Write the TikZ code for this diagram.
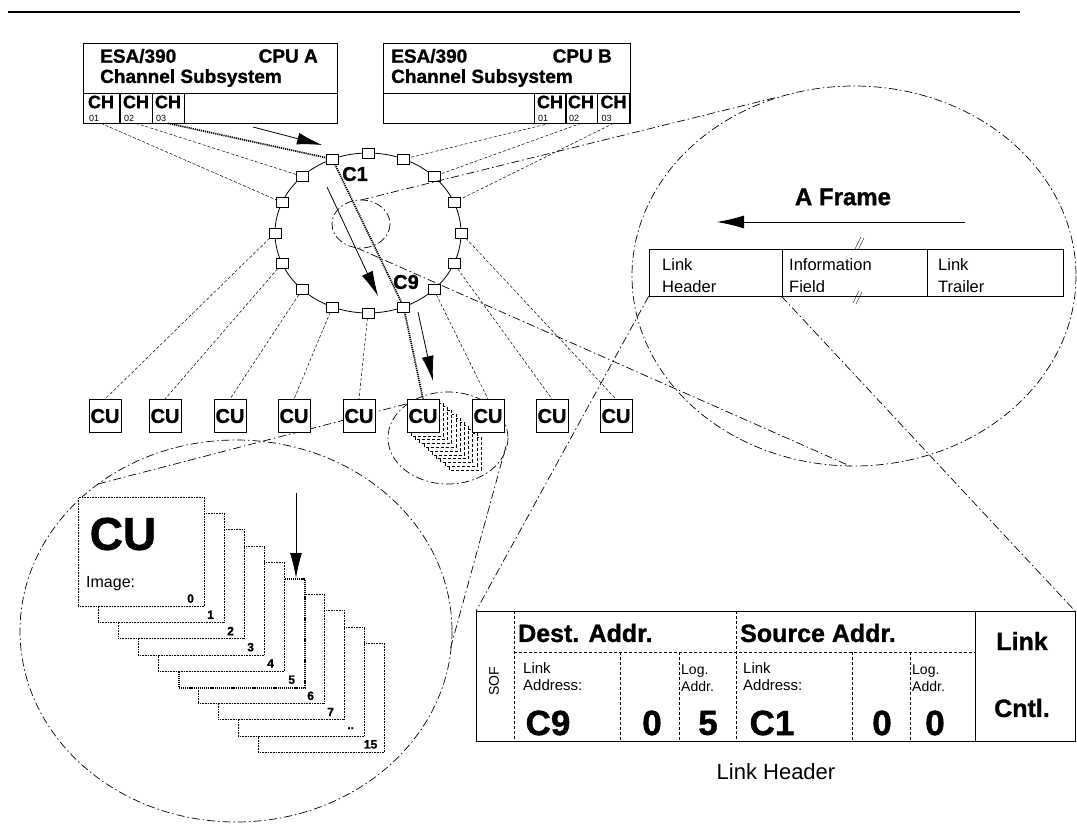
\documentclass[tikz,border=0pt]{standalone}
\usepackage{fontspec}
\setmainfont{Liberation Sans}[BoldFeatures={FakeBold=1.2}]
\usetikzlibrary{arrows.meta,positioning,calc}
\newcommand{\fsz}[1]{\fontsize{#1}{#1}\selectfont}

\begin{document}
\begin{tikzpicture}[x=1pt,y=-1pt,>=Latex,
  cpubox/.style={draw,line width=0.8pt,minimum width=254,minimum height=80,inner sep=0},
  chcell/.style={draw,line width=0.6pt,minimum width=32,minimum height=30,inner sep=0},
  port/.style={draw,fill=white,minimum width=12,minimum height=10,inner sep=0,line width=0.5pt},
  cubox/.style={draw,fill=white,line width=0.9pt,minimum width=32,minimum height=33,inner sep=0,font=\bfseries\fsz{20}},
  imgbox/.style={draw,densely dotted,fill=white,line width=0.6pt,minimum width=126,minimum height=109,inner sep=0,anchor=north west},
  link/.style={densely dashed,line width=0.5pt},
  hilite/.style={line width=1.7pt,dash pattern=on 1.2pt off 0.9pt},
  magline/.style={line width=0.7pt,dash pattern=on 8pt off 3pt on 1.5pt off 3pt},
  bigarrow/.style={line width=0.8pt,-{Latex[length=25pt,width=12pt]}},
  txt/.style={inner sep=0,anchor=west},
  bold/.style={font=\bfseries\fsz{#1}},
  plain/.style={font=\fsz{#1}}]

\useasboundingbox (0,0) rectangle (1077,824);
\draw[line width=2.2pt] (8,12) -- (1020,12);

% channel subsystems
\node[cpubox] (cpuA) at (210,83) {};
\draw[line width=0.6pt] (cpuA.west |- 0,93) -- (cpuA.east |- 0,93);
\node[txt,bold=19] at (100,56) {ESA/390};
\node[txt,anchor=east,bold=19] at (318,56) {CPU A};
\node[txt,bold=19] at (100,78) {Channel Subsystem};
\node[cpubox,minimum width=247] (cpuB) at (506.5,83) {};
\draw[line width=0.6pt] (cpuB.west |- 0,93) -- (cpuB.east |- 0,93);
\node[txt,bold=19] at (391,56) {ESA/390};
\node[txt,anchor=east,bold=19] at (612,56) {CPU B};
\node[txt,bold=19] at (391,78) {Channel Subsystem};
\foreach \n/\x/\w in {1/101/36,2/136/32,3/168/32} {
  \node[chcell,minimum width=\w] (chA\n) at (\x,108) {};
  \node[bold=18,inner sep=0] at (\x,102) {CH};
  \node[plain=9,inner sep=0,anchor=west] at ([xshift=-12pt]\x,118) {0\n};
}
\foreach \n/\x in {1/550,2/581,3/613.5} {
  \node[chcell] (chB\n) at (\x,108) {};
  \node[bold=18,inner sep=0] at (\x,102) {CH};
  \node[plain=9,inner sep=0,anchor=west] at ([xshift=-12pt]\x,118) {0\n};
}

% switch
\draw[line width=0.8pt] (368,233) ellipse [x radius=93,y radius=80];
\foreach \i in {0,...,15}
  \node[port] (p\i) at ({368+93*cos(\i*22.5)},{233-80*sin(\i*22.5)}) {};
\node[bold=20,inner sep=0] (c1) at (355,174) {C1};
\node[bold=20,inner sep=0] (c9) at (406,282) {C9};
\draw[magline] (361,224) ellipse [x radius=29,y radius=24];

% magnifier cones
\coordinate (swtop) at (361,200);
\coordinate (swbot) at (357,248);
\coordinate (rctop) at (778,97);
\coordinate (rcbot) at (850,466);
\draw[magline] (swtop) -- (rctop);
\draw[magline] (swbot) -- (rcbot);
\draw[magline] (854,276) ellipse [x radius=222,y radius=190];
\coordinate (stkA) at (406,404);
\coordinate (stkB) at (506,446);
\coordinate (llA) at (98,484);
\coordinate (llB) at (450,650);
\draw[magline] (stkA) -- (llA);
\draw[magline] (stkB) -- (llB);
\draw[magline] (448,438) ellipse [x radius=60,y radius=46];
\draw[magline] (236,631) ellipse [x radius=216,y radius=191];

% CU row
\foreach \k in {10,...,1}
  \draw[densely dashed,fill=white,line width=0.5pt] (407+4.2*\k,399+3.8*\k) rectangle ++(32,33);
\foreach \n/\x in {1/105,2/165,3/230,4/294,5/359,6/423,7/488,8/552,9/616}
  \node[cubox] (cu\n) at (\x,416) {CU};

% links
\draw[link] (chA1.south) -- (p7);
\draw[link] (chA2.south) -- (p6);
\draw[link] (chB1.south) -- (p3);
\draw[link] (chB2.south) -- (p2);
\draw[link] (chB3.south) -- (p1);
\foreach \a/\b in {8/1,9/2,10/3,11/4,12/5,14/7,15/8,0/9}
  \draw[link] (p\a) -- (cu\b.north);
\draw[hilite] (chA3.south) -- (p5);
\draw[hilite] (p5) -- (p13);
\draw[hilite] (p13) -- (cu6.north);
\draw[bigarrow] (253,127) -- (322,145);
\draw[bigarrow] (327,187) -- (378,296);
\draw[bigarrow] (418,312) -- (433,381);

% a frame
\node[bold=24,inner sep=0] (aframe) at (843,197) {A Frame};
\draw[bigarrow,-{Latex[length=27pt,width=13pt]}] (965,222) -- (717,222);
\node[draw,line width=0.8pt,minimum width=133,minimum height=47,inner sep=0] (hdr) at (715.5,272.5) {};
\node[draw,line width=0.8pt,minimum width=145,minimum height=47,inner sep=0] (info) at (854.5,272.5) {};
\node[draw,line width=0.8pt,minimum width=136,minimum height=47,inner sep=0] (trl) at (995,272.5) {};
\node[txt,align=left,font=\fontsize{16.5}{22}\selectfont] at (662,276) {Link\\Header};
\node[txt,align=left,font=\fontsize{16.5}{22}\selectfont] at (789,276) {Information\\Field};
\node[txt,align=left,font=\fontsize{16.5}{22}\selectfont] at (938,276) {Link\\Trailer};
\draw[line width=0.4pt] (855,249) -- (861,237) (858,250) -- (864,238);
\draw[line width=0.4pt] (853,303) -- (859,291) (856,304) -- (862,292);
\draw[magline] (hdr.south west) -- (476,611);
\draw[magline] (info.south west) -- (1075,611);

% link header
\node[draw,line width=0.8pt,minimum width=599,minimum height=130,inner sep=0] (lhtab) at (775.5,676) {};
\draw[densely dashed,line width=0.5pt] (514,611) -- (514,741) (736,611) -- (736,741)
  (514,652) -- (975,652) (620,652) -- (620,741) (679,652) -- (679,741)
  (852,652) -- (852,741) (910,652) -- (910,741);
\draw[line width=0.8pt] (975,611) -- (975,741);
\node[plain=14,rotate=90,inner sep=0] at (494,681) {SOF};
\node[txt,bold=25] at (518,633) {Dest. Addr.};
\node[txt,bold=25] at (740,633) {Source Addr.};
\node[bold=25,inner sep=0] at (1022,641) {Link};
\node[bold=25,inner sep=0] at (1022,708) {Cntl.};
\node[txt,align=left,font=\fontsize{15}{17}\selectfont] at (523,677) {Link\\Address:};
\node[txt,align=left,font=\fontsize{15}{17}\selectfont] at (743,677) {Link\\Address:};
\node[txt,align=left,font=\fontsize{14}{17}\selectfont] at (681,678) {Log.\\Addr.};
\node[txt,align=left,font=\fontsize{14}{17}\selectfont] at (912,678) {Log.\\Addr.};
\node[bold=35,inner sep=0] at (548,723) {C9};
\node[bold=35,inner sep=0] at (652,723) {0};
\node[bold=35,inner sep=0] at (708,723) {5};
\node[bold=35,inner sep=0] at (772,723) {C1};
\node[bold=35,inner sep=0] at (882,723) {0};
\node[bold=35,inner sep=0] at (935,723) {0};
\node[plain=22,inner sep=0] at (776,772) {Link Header};

% cu images
\foreach \k/\t in {9/15,8/..,7/7,6/6}{
  \node[imgbox] (img\k) at (78+20*\k,497+16.2*\k) {};
  \node[bold=12,inner sep=0] at ([xshift=-14pt,yshift=8pt]img\k.south east) {\t};
}
\node[imgbox,hilite] (img5) at (178,578) {};
\node[bold=12,inner sep=0] at ([xshift=-14pt,yshift=9pt]img5.south east) {5};
\foreach \k/\t in {4/4,3/3,2/2,1/1,0/0}{
  \node[imgbox] (img\k) at (78+20*\k,497+16.2*\k) {};
  \node[bold=12,inner sep=0] at ([xshift=-14pt,yshift=8pt]img\k.south east) {\t};
}
\node[bold=46,inner sep=0] at (123,534) {CU};
\node[txt,plain=16] at (86,584) {Image:};
\draw[bigarrow] (296,493) -- (img5.north -| 296,0);
\end{tikzpicture}
\end{document}
